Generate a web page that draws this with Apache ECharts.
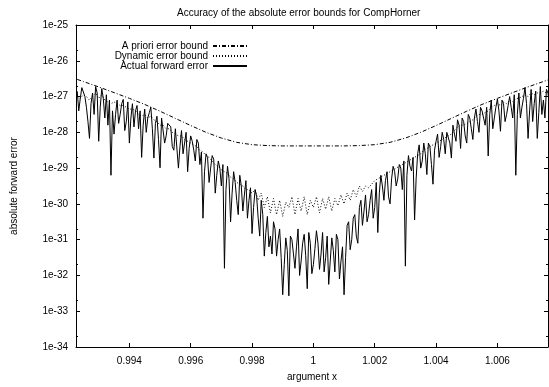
<!DOCTYPE html>
<html>
<head>
<meta charset="utf-8">
<title>CompHorner error bounds</title>
<script src="https://cdn.jsdelivr.net/npm/echarts@6/dist/echarts.min.js"></script>
<style>
  html, body { margin: 0; padding: 0; background: #fff; }
  #chart { width: 549px; height: 387px; }
</style>
</head>
<body>
<div id="chart"></div>
<script>
// argument x, fine grid for the actual error
var xsFine = [
  0.99230, 0.99235, 0.99240, 0.99245, 0.99250, 0.99255, 0.99260, 0.99265, 0.99270, 0.99275,
  0.99280, 0.99285, 0.99290, 0.99295, 0.99300, 0.99305, 0.99310, 0.99315, 0.99320, 0.99325,
  0.99330, 0.99335, 0.99340, 0.99345, 0.99350, 0.99355, 0.99360, 0.99365, 0.99370, 0.99375,
  0.99380, 0.99385, 0.99390, 0.99395, 0.99400, 0.99405, 0.99410, 0.99415, 0.99420, 0.99425,
  0.99430, 0.99435, 0.99440, 0.99445, 0.99450, 0.99455, 0.99460, 0.99465, 0.99470, 0.99475,
  0.99480, 0.99485, 0.99490, 0.99495, 0.99500, 0.99505, 0.99510, 0.99515, 0.99520, 0.99525,
  0.99530, 0.99535, 0.99540, 0.99545, 0.99550, 0.99555, 0.99560, 0.99565, 0.99570, 0.99575,
  0.99580, 0.99585, 0.99590, 0.99595, 0.99600, 0.99605, 0.99610, 0.99615, 0.99620, 0.99625,
  0.99630, 0.99635, 0.99640, 0.99645, 0.99650, 0.99655, 0.99660, 0.99665, 0.99670, 0.99675,
  0.99680, 0.99685, 0.99690, 0.99695, 0.99700, 0.99705, 0.99710, 0.99715, 0.99720, 0.99725,
  0.99730, 0.99735, 0.99740, 0.99745, 0.99750, 0.99755, 0.99760, 0.99765, 0.99770, 0.99775,
  0.99780, 0.99785, 0.99790, 0.99795, 0.99800, 0.99805, 0.99810, 0.99815, 0.99820, 0.99825,
  0.99830, 0.99835, 0.99840, 0.99845, 0.99850, 0.99855, 0.99860, 0.99865, 0.99870, 0.99875,
  0.99880, 0.99885, 0.99890, 0.99895, 0.99900, 0.99905, 0.99910, 0.99915, 0.99920, 0.99925,
  0.99930, 0.99935, 0.99940, 0.99945, 0.99950, 0.99955, 0.99960, 0.99965, 0.99970, 0.99975,
  0.99980, 0.99985, 0.99990, 0.99995, 1.00000, 1.00005, 1.00010, 1.00015, 1.00020, 1.00025,
  1.00030, 1.00035, 1.00040, 1.00045, 1.00050, 1.00055, 1.00060, 1.00065, 1.00070, 1.00075,
  1.00080, 1.00085, 1.00090, 1.00095, 1.00100, 1.00105, 1.00110, 1.00115, 1.00120, 1.00125,
  1.00130, 1.00135, 1.00140, 1.00145, 1.00150, 1.00155, 1.00160, 1.00165, 1.00170, 1.00175,
  1.00180, 1.00185, 1.00190, 1.00195, 1.00200, 1.00205, 1.00210, 1.00215, 1.00220, 1.00225,
  1.00230, 1.00235, 1.00240, 1.00245, 1.00250, 1.00255, 1.00260, 1.00265, 1.00270, 1.00275,
  1.00280, 1.00285, 1.00290, 1.00295, 1.00300, 1.00305, 1.00310, 1.00315, 1.00320, 1.00325,
  1.00330, 1.00335, 1.00340, 1.00345, 1.00350, 1.00355, 1.00360, 1.00365, 1.00370, 1.00375,
  1.00380, 1.00385, 1.00390, 1.00395, 1.00400, 1.00405, 1.00410, 1.00415, 1.00420, 1.00425,
  1.00430, 1.00435, 1.00440, 1.00445, 1.00450, 1.00455, 1.00460, 1.00465, 1.00470, 1.00475,
  1.00480, 1.00485, 1.00490, 1.00495, 1.00500, 1.00505, 1.00510, 1.00515, 1.00520, 1.00525,
  1.00530, 1.00535, 1.00540, 1.00545, 1.00550, 1.00555, 1.00560, 1.00565, 1.00570, 1.00575,
  1.00580, 1.00585, 1.00590, 1.00595, 1.00600, 1.00605, 1.00610, 1.00615, 1.00620, 1.00625,
  1.00630, 1.00635, 1.00640, 1.00645, 1.00650, 1.00655, 1.00660, 1.00665, 1.00670, 1.00675,
  1.00680, 1.00685, 1.00690, 1.00695, 1.00700, 1.00705, 1.00710, 1.00715, 1.00720, 1.00725,
  1.00730, 1.00735, 1.00740, 1.00745, 1.00750, 1.00755, 1.00760, 1.00765, 1.00770
];

// actual forward error, as exponent of ten (y axis shows decades)
var actualLog = [
  -26.85, -27.4, -27.05, -26.75, -26.78, -27.0, -27.3, -27.7, -28.17, -27.2,
  -26.9, -27.5, -26.72, -26.9, -28.25, -27.3, -26.78, -27.05, -27.6, -26.95,
  -27.8, -27.1, -29.2, -27.4, -28.05, -27.5, -27.1, -27.75, -27.5, -27.2,
  -27.08, -27.95, -27.7, -27.15, -28.3, -27.6, -27.2, -27.85, -27.4, -27.25,
  -27.9, -27.4, -28.7, -27.8, -27.35, -28.0, -27.6, -27.45, -27.3, -27.9,
  -28.72, -27.75, -27.55, -28.2, -28.99, -27.6, -27.65, -28.3, -28.1, -27.75,
  -27.7, -27.85, -28.4, -28.5, -27.9, -27.95, -29.0, -28.4, -27.95, -28.6,
  -28.3, -28.0, -29.1, -28.45, -28.1, -28.25, -28.5, -28.8, -28.2, -28.3,
  -28.9, -28.55, -30.4, -29.1, -28.6, -28.7, -29.4, -29.0, -28.65, -28.75,
  -29.7, -29.2, -28.8, -29.0, -29.5, -28.9, -31.8, -29.6, -28.95, -29.3,
  -30.5, -29.7, -29.1, -29.4, -29.9, -30.3, -29.2, -29.5, -30.2, -29.75,
  -29.35, -30.4, -29.9, -29.55, -30.83, -30.1, -29.6, -29.8, -30.4, -30.9,
  -29.9, -30.3, -31.46, -30.8, -30.35, -31.2, -30.9, -31.4, -30.5, -30.7,
  -31.46, -31.0, -30.7, -31.5, -32.54, -31.7, -30.95, -31.3, -32.57, -30.9,
  -31.0, -31.4, -31.8, -31.2, -30.7, -32.0, -31.6, -31.1, -30.85, -31.45,
  -32.37, -30.8, -31.1, -31.95, -31.7, -31.25, -30.75, -31.1, -31.83, -31.4,
  -30.8, -31.9, -31.5, -30.9, -32.25, -31.6, -30.95, -31.3, -31.9, -30.85,
  -31.0, -32.1, -31.6, -31.2, -32.54, -31.5, -30.6, -30.5, -31.28, -31.0,
  -30.4, -30.3, -30.9, -31.1, -30.1, -29.9, -30.6, -30.2, -29.75, -30.5,
  -30.3, -29.9, -29.6, -30.4, -30.1, -29.4, -30.8, -29.7, -29.2, -29.5,
  -29.9, -29.35, -29.1, -29.8, -30.0, -29.3, -28.95, -29.1, -29.5, -29.3,
  -28.9, -29.0, -29.6, -28.8, -31.74, -29.2, -28.65, -28.95, -29.08, -28.7,
  -30.45, -29.3, -28.6, -28.35, -29.0, -28.8, -28.3, -28.6, -29.18, -28.3,
  -28.4, -28.9, -29.45, -28.5, -28.25, -28.05, -28.7, -28.4, -28.0, -28.2,
  -28.6, -28.0, -27.97, -28.3, -28.72, -27.8, -28.05, -28.25, -27.65, -27.8,
  -28.45, -27.6, -27.7, -28.1, -28.3, -27.5, -27.6, -27.9, -28.2, -27.6,
  -27.35, -27.7, -28.0, -27.3, -27.4, -27.6, -27.8, -27.3, -28.66, -27.5,
  -27.1, -27.9, -27.6, -27.3, -27.07, -27.4, -27.97, -27.1, -27.2, -27.7,
  -27.5, -27.25, -27.0, -27.3, -27.6, -26.95, -29.2, -27.5, -26.9, -27.6,
  -27.3, -27.05, -26.75, -27.2, -28.17, -27.4, -26.8, -27.7, -27.2, -26.85,
  -28.17, -27.45, -26.72, -27.5, -27.1, -27.6, -26.8, -26.9, -27.3
];

// argument x, coarse grid for the dynamic bound
var xs = [
  0.9923, 0.9924, 0.9925, 0.9926, 0.9927, 0.9928, 0.9929, 0.9930, 0.9931, 0.9932,
  0.9933, 0.9934, 0.9935, 0.9936, 0.9937, 0.9938, 0.9939, 0.9940, 0.9941, 0.9942,
  0.9943, 0.9944, 0.9945, 0.9946, 0.9947, 0.9948, 0.9949, 0.9950, 0.9951, 0.9952,
  0.9953, 0.9954, 0.9955, 0.9956, 0.9957, 0.9958, 0.9959, 0.9960, 0.9961, 0.9962,
  0.9963, 0.9964, 0.9965, 0.9966, 0.9967, 0.9968, 0.9969, 0.9970, 0.9971, 0.9972,
  0.9973, 0.9974, 0.9975, 0.9976, 0.9977, 0.9978, 0.9979, 0.9980, 0.9981, 0.9982,
  0.9983, 0.9984, 0.9985, 0.9986, 0.9987, 0.9988, 0.9989, 0.9990, 0.9991, 0.9992,
  0.9993, 0.9994, 0.9995, 0.9996, 0.9997, 0.9998, 0.9999, 1.0000, 1.0001, 1.0002,
  1.0003, 1.0004, 1.0005, 1.0006, 1.0007, 1.0008, 1.0009, 1.0010, 1.0011, 1.0012,
  1.0013, 1.0014, 1.0015, 1.0016, 1.0017, 1.0018, 1.0019, 1.0020, 1.0021, 1.0022,
  1.0023, 1.0024, 1.0025, 1.0026, 1.0027, 1.0028, 1.0029, 1.0030, 1.0031, 1.0032,
  1.0033, 1.0034, 1.0035, 1.0036, 1.0037, 1.0038, 1.0039, 1.0040, 1.0041, 1.0042,
  1.0043, 1.0044, 1.0045, 1.0046, 1.0047, 1.0048, 1.0049, 1.0050, 1.0051, 1.0052,
  1.0053, 1.0054, 1.0055, 1.0056, 1.0057, 1.0058, 1.0059, 1.0060, 1.0061, 1.0062,
  1.0063, 1.0064, 1.0065, 1.0066, 1.0067, 1.0068, 1.0069, 1.0070, 1.0071, 1.0072,
  1.0073, 1.0074, 1.0075, 1.0076, 1.0077
];

var dynamicLog = [
  -27.0, -27.05, -26.95, -27.0, -27.1, -27.0, -26.9, -27.05, -26.95, -27.1,
  -27.15, -27.2, -27.15, -27.2, -27.25, -27.25, -27.3, -27.35, -27.35, -27.4,
  -27.5, -27.55, -27.5, -27.6, -27.55, -27.65, -27.7, -27.8, -27.8, -27.9,
  -27.9, -28.0, -28.05, -28.1, -28.1, -28.2, -28.25, -28.3, -28.35, -28.4,
  -28.5, -28.55, -28.65, -28.7, -28.8, -28.9, -28.95, -29.05, -29.1, -29.15,
  -29.25, -29.3, -29.4, -29.45, -29.5, -29.6, -29.6, -29.7, -29.6, -29.9,
  -29.7, -30.1, -29.8, -30.25, -29.85, -30.3, -29.9, -30.35, -29.95, -30.1,
  -29.8, -30.3, -29.85, -30.2, -29.8, -30.3, -29.9, -30.1, -29.8, -30.25,
  -29.85, -30.15, -29.8, -30.2, -29.85, -30.05, -29.75, -30.0, -29.7, -29.9,
  -29.6, -29.8, -29.5, -29.65, -29.5, -29.55, -29.45, -29.35, -29.3, -29.25,
  -29.2, -29.15, -29.1, -29.05, -29.0, -28.95, -28.9, -28.85, -28.8, -28.75,
  -28.7, -28.65, -28.6, -28.5, -28.45, -28.4, -28.35, -28.3, -28.25, -28.2,
  -28.15, -28.1, -28.05, -27.95, -27.85, -27.8, -27.8, -27.75, -27.7, -27.65,
  -27.55, -27.5, -27.5, -27.45, -27.4, -27.3, -27.25, -27.2, -27.25, -27.15,
  -27.2, -27.1, -27.15, -27.05, -27.05, -27.0, -26.95, -27.0, -26.9, -26.95,
  -26.9, -26.9, -26.85, -26.9, -26.85
];

// a priori bound is smooth, fewer points are enough
var aprioriX = [
  0.9923, 0.9925, 0.9930, 0.9935, 0.9940, 0.9945, 0.9950, 0.9955, 0.9960, 0.9965,
  0.9970, 0.9975, 0.9980, 0.9985, 0.9990, 0.9995, 1.0000, 1.0005, 1.0010, 1.0015,
  1.0020, 1.0025, 1.0030, 1.0035, 1.0040, 1.0045, 1.0050, 1.0055, 1.0060, 1.0065,
  1.0070, 1.0075, 1.0077
];
var aprioriLog = [
  -26.52, -26.58, -26.73, -26.89, -27.05, -27.22, -27.41, -27.61, -27.81, -28.0,
  -28.16, -28.28, -28.345, -28.37, -28.38, -28.38, -28.38, -28.38, -28.38, -28.37,
  -28.345, -28.28, -28.16, -28.0, -27.81, -27.61, -27.41, -27.22, -27.05, -26.89,
  -26.73, -26.58, -26.52
];

var xTicks = [0.994, 0.996, 0.998, 1, 1.002, 1.004, 1.006];
// small tick at 2x each decade, like the gnuplot frame
var decades = [-34, -33, -32, -31, -30, -29, -28, -27, -26];

function pairs(x, y) {
  var out = [];
  for (var i = 0; i < x.length; i++) out.push([x[i], y[i]]);
  return out;
}

var font = 'Liberation Sans, Arial, Helvetica, sans-serif';
var xMin = 0.99226, xMax = 1.00765;

function xAxisOpt(pos) {
  return {
    type: 'value',
    position: pos,
    min: xMin,
    max: xMax,
    splitLine: { show: false },
    axisLine: { show: true, onZero: false, lineStyle: { color: '#000', width: 1 } },
    axisTick: { inside: true, length: 4, customValues: xTicks, lineStyle: { color: '#000' } },
    axisLabel: {
      show: pos === 'bottom',
      customValues: xTicks,
      margin: 9,
      color: '#000',
      fontSize: 10,
      fontFamily: font,
      formatter: function (v) { return String(v); }
    }
  };
}

function yAxisOpt(pos) {
  return {
    type: 'value',
    position: pos,
    min: -34,
    max: -25,
    interval: 1,
    splitLine: { show: false },
    axisLine: { show: true, onZero: false, lineStyle: { color: '#000', width: 1 } },
    axisTick: { inside: true, length: 4, lineStyle: { color: '#000' } },
    axisLabel: {
      show: pos === 'left',
      margin: 8,
      color: '#000',
      fontSize: 10,
      fontFamily: font,
      formatter: function (v) { return '1e' + v; }
    }
  };
}

function yMinorOpt(pos) {
  return {
    type: 'value',
    position: pos,
    min: -34,
    max: -25,
    splitLine: { show: false },
    axisLine: { show: false },
    axisLabel: { show: false },
    axisTick: {
      inside: true,
      length: 2,
      customValues: decades.map(function (d) { return d + Math.log10(2); }),
      lineStyle: { color: '#000' }
    }
  };
}

var chart = echarts.init(document.getElementById('chart'));

var xa = xAxisOpt('bottom');
xa.name = 'argument x';
xa.nameLocation = 'middle';
xa.nameGap = 25;
xa.nameTextStyle = { color: '#000', fontSize: 10, fontFamily: font };

var ya = yAxisOpt('left');
ya.name = 'absolute forward error';
ya.nameLocation = 'middle';
ya.nameGap = 57;
ya.nameTextStyle = { color: '#000', fontSize: 10, fontFamily: font };

chart.setOption({
  animation: false,
  backgroundColor: '#fff',
  color: ['#000'],
  textStyle: { fontFamily: font },
  title: {
    text: 'Accuracy of the absolute error bounds for CompHorner',
    left: 172,
    top: 3,
    textStyle: { color: '#000', fontSize: 10, fontWeight: 'normal', fontFamily: font }
  },
  legend: {
    orient: 'vertical',
    right: 296,
    top: 36,
    align: 'right',
    itemWidth: 34,
    itemHeight: 10,
    itemGap: 0,
    itemStyle: { opacity: 0 },
    textStyle: { color: '#000', fontSize: 10, fontFamily: font, lineHeight: 10 },
    data: ['A priori error bound', 'Dynamic error bound', 'Actual forward error']
  },
  grid: { left: 76, right: 1, top: 25, bottom: 35, containLabel: false },
  xAxis: [xa, xAxisOpt('top')],
  yAxis: [ya, yAxisOpt('right'), yMinorOpt('left'), yMinorOpt('right')],
  series: [
    {
      name: 'A priori error bound',
      type: 'line',
      data: pairs(aprioriX, aprioriLog),
      showSymbol: false,
      symbol: 'none',
      lineStyle: { color: '#000', width: 1, type: [4, 2, 1, 2] }
    },
    {
      name: 'Dynamic error bound',
      type: 'line',
      data: pairs(xs, dynamicLog),
      showSymbol: false,
      symbol: 'none',
      lineStyle: { color: '#000', width: 1, type: [1, 2] }
    },
    {
      name: 'Actual forward error',
      type: 'line',
      data: pairs(xsFine, actualLog),
      showSymbol: false,
      symbol: 'none',
      lineStyle: { color: '#000', width: 1 }
    }
  ]
});
</script>
</body>
</html>
